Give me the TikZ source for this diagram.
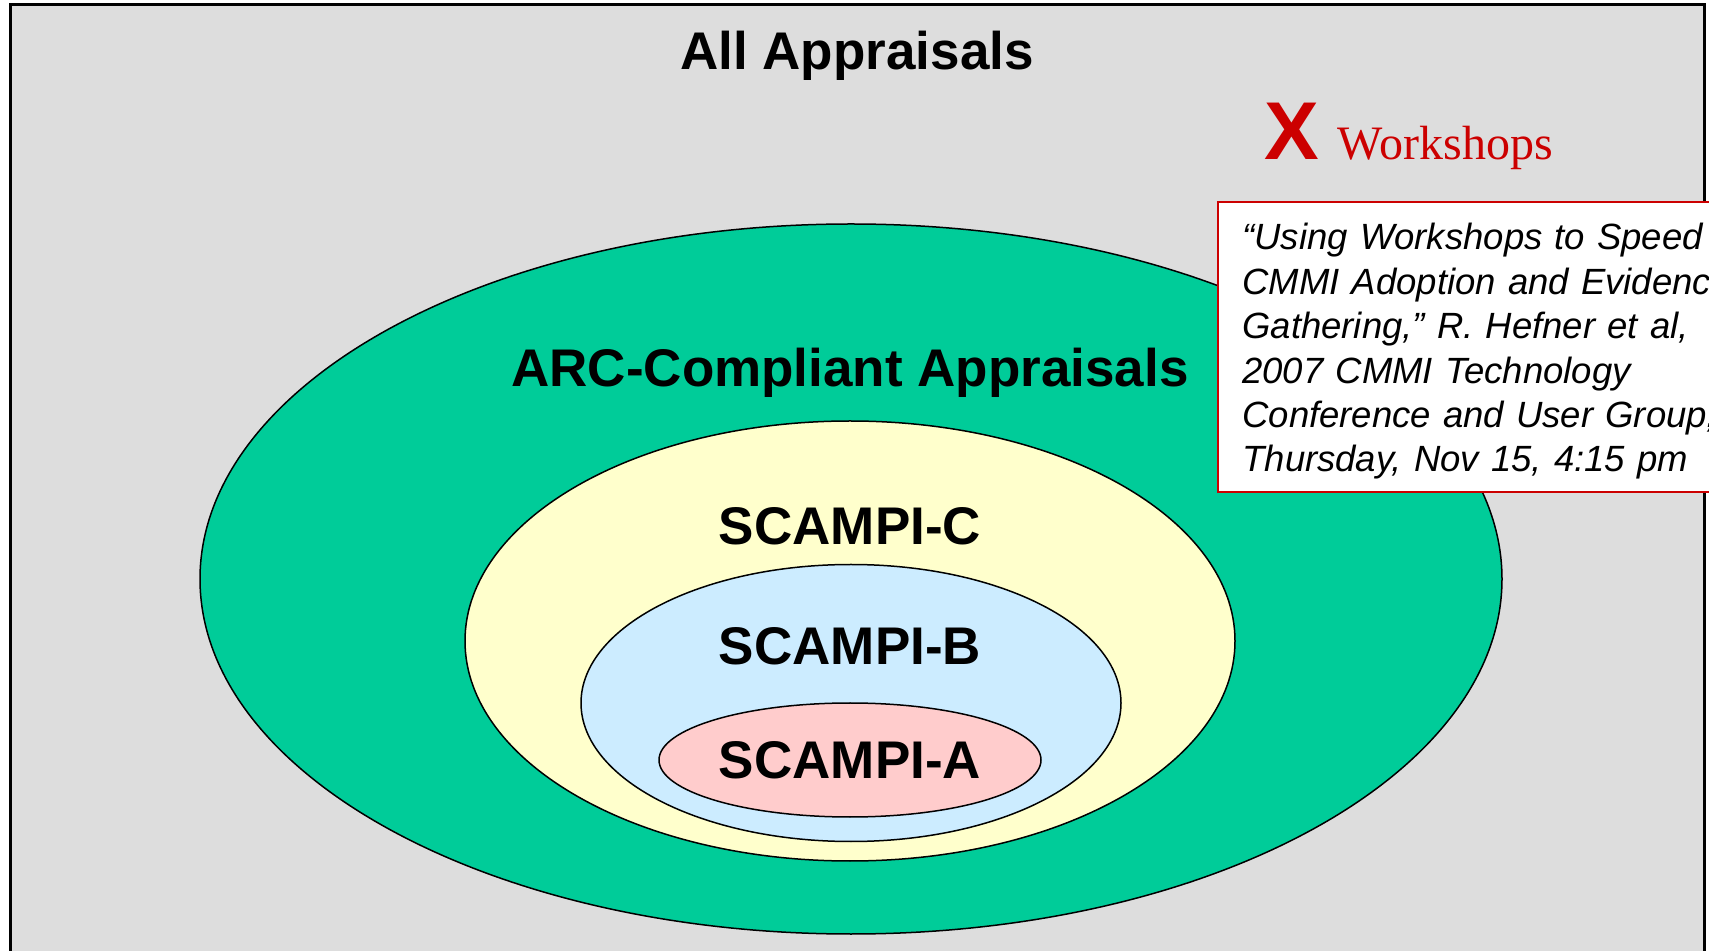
\documentclass[tikz,border=0pt]{standalone}
\usepackage{fontspec}
\setmainfont{Liberation Sans}
\newfontfamily\timesfont{Liberation Serif}
\usetikzlibrary{positioning}

\definecolor{bggray}{HTML}{DDDDDD}
\definecolor{arcgreen}{HTML}{00CC99}
\definecolor{cyellow}{HTML}{FFFFCC}
\definecolor{bblue}{HTML}{CCECFF}
\definecolor{apink}{HTML}{FFCCCC}
\definecolor{xred}{HTML}{CC0000}

\tikzset{
  ring/.style={draw=black, line width=0.75pt},
  title/.style={font=\bfseries\fontsize{26.5}{30}\selectfont, anchor=base, inner sep=0pt},
  notebox/.style={draw=xred, fill=white, line width=0.8pt},
  notetext/.style={anchor=north west, align=left, inner sep=0pt, text width=270pt,
    font=\itshape\fontsize{18.25}{22.2}\selectfont}
}

\begin{document}
\begin{tikzpicture}[x=0.5pt, y=-0.5pt]
  \useasboundingbox (0,0) rectangle (1709,951);
  \clip (0,0) rectangle (1709,951);

  % The slide frame
  \fill[white] (0,0) rectangle (1709,951);
  \filldraw[fill=bggray, draw=black, line width=1.5pt] (10,5) rectangle (1704,990);

  % Nested sets, outermost first
  \filldraw[ring, fill=arcgreen] (851,579) ellipse [x radius=651, y radius=355];
  \filldraw[ring, fill=cyellow] (850,641) ellipse [x radius=385, y radius=220];
  \filldraw[ring, fill=bblue] (851,703) ellipse [x radius=270, y radius=138.5];
  \filldraw[ring, fill=apink] (850,760) ellipse [x radius=191, y radius=57];

  % Set names
  \node[title] (all) at (857,70) {All Appraisals};
  \node[title] (arc) at (850,387) {ARC-Compliant Appraisals};
  \node[title] (scampiC) at (850,545) {SCAMPI-C};
  \node[title] (scampiB) at (850,665) {SCAMPI-B};
  \node[title] (scampiA) at (850,778) {SCAMPI-A};

  % Workshops are struck out
  \node[anchor=base west, inner sep=0pt, text=xred,
        font=\bfseries\fontsize{41}{41}\selectfont] (cross) at (1264,160) {X};
  \node[base right=9pt of cross, inner sep=0pt, text=xred,
        font=\timesfont\fontsize{24}{26}\selectfont] (workshops) {Workshops};

  % Pointer to the talk, running off the slide
  \draw[notebox] (1218,202) rectangle (1780,492);
  \node[notetext] (note) at (1242,223) {%
    ``Using Workshops to Speed\\
    CMMI Adoption and Evidence\\
    Gathering,'' R. Hefner et al,\\
    2007 CMMI Technology\\
    Conference and User Group,\\
    Thursday, Nov 15, 4:15 pm};
\end{tikzpicture}
\end{document}
